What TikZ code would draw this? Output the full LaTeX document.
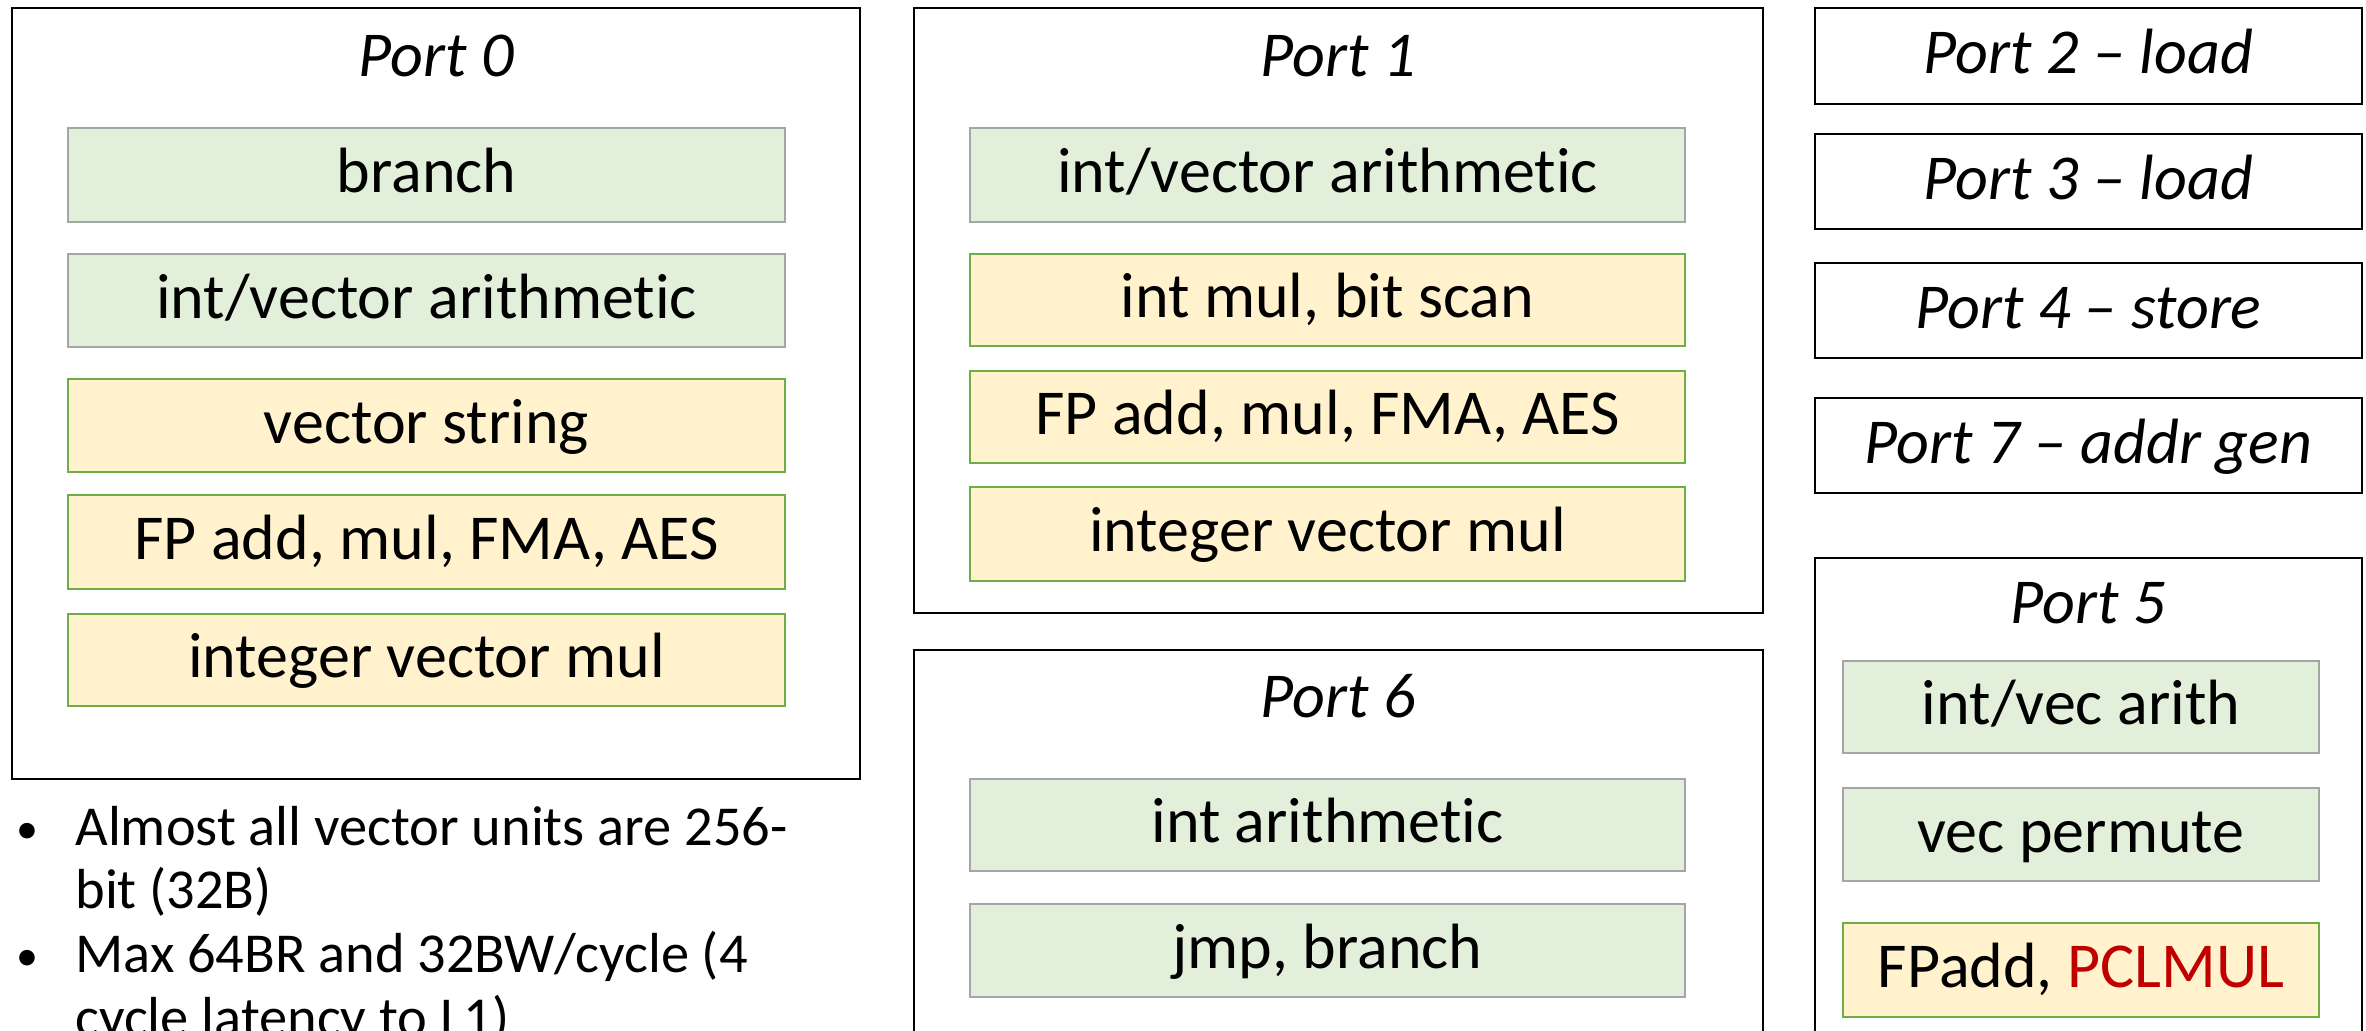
\documentclass[tikz,border=0pt]{standalone}
\usepackage{fontspec}
\setmainfont{Carlito}[Ligatures=NoCommon]
\usetikzlibrary{fit}
\definecolor{unitgreen}{HTML}{E2EFDA}
\definecolor{unitgrey}{HTML}{A5A5A5}
\definecolor{unityellow}{HTML}{FFF2CC}
\definecolor{unitedge}{HTML}{70AD47}
\definecolor{hilite}{HTML}{C00000}
\begin{document}
\begin{tikzpicture}[x=0.5pt,y=-0.5pt,
  every node/.style={font=\fontsize{32}{38}\selectfont, inner sep=0pt,
                     text height=25.6pt, text depth=7.7pt},
  portbox/.style={draw=black, line width=1pt, fill=white},
  porttitle/.style={font=\fontsize{32}{38}\selectfont\itshape},
  simpleunit/.style={draw=unitgrey, line width=0.9pt, fill=unitgreen},
  heavyunit/.style={draw=unitedge, line width=0.9pt, fill=unityellow},
  bulletline/.style={font=\fontsize{28.2}{32}\selectfont, anchor=base west},
  bulletdot/.style={font=\fontsize{22}{32}\selectfont, anchor=base}
]
\useasboundingbox (0,0) rectangle (2366,1031);
\clip (0,0) rectangle (2366,1031);

% Port 0
\node[portbox, fit={(12,8) (860,779)}] (p0) {};
\node[porttitle] (p0t) at (436,59) {Port 0};
\node[simpleunit, fit={(68,128) (785,222)}, label={center:branch}] (p0a) {};
\node[simpleunit, fit={(68,254) (785,347)}, label={center:int/vector arithmetic}] (p0b) {};
\node[heavyunit,  fit={(68,379) (785,472)}, label={center:vector string}] (p0c) {};
\node[heavyunit,  fit={(68,495) (785,589)}, label={center:{FP add, mul, FMA, AES}}] (p0d) {};
\node[heavyunit,  fit={(68,614) (785,706)}, label={center:integer vector mul}] (p0e) {};

% Port 1
\node[portbox, fit={(914,8) (1763,613)}] (p1) {};
\node[porttitle] (p1t) at (1338,59) {Port 1};
\node[simpleunit, fit={(970,128) (1685,222)}, label={center:int/vector arithmetic}] (p1a) {};
\node[heavyunit,  fit={(970,254) (1685,346)}, label={center:{int mul, bit scan}}] (p1b) {};
\node[heavyunit,  fit={(970,371) (1685,463)}, label={center:{FP add, mul, FMA, AES}}] (p1c) {};
\node[heavyunit,  fit={(970,487) (1685,581)}, label={center:integer vector mul}] (p1d) {};

% Port 6
\node[portbox, fit={(914,650) (1763,1100)}] (p6) {};
\node[porttitle] (p6t) at (1338,700) {Port 6};
\node[simpleunit, fit={(970,779) (1685,871)}, label={center:int arithmetic}] (p6a) {};
\node[simpleunit, fit={(970,904) (1685,997)}, label={center:{jmp, branch}}] (p6b) {};

% Memory ports
\node[portbox, fit={(1815,8) (2362,104)},   label={[porttitle]center:Port 2 -- load}] (p2) {};
\node[portbox, fit={(1815,134) (2362,229)}, label={[porttitle]center:Port 3 -- load}] (p3) {};
\node[portbox, fit={(1815,263) (2362,358)}, label={[porttitle]center:Port 4 -- store}] (p4) {};
\node[portbox, fit={(1815,398) (2362,493)}, label={[porttitle]center:Port 7 -- addr gen}] (p7) {};

% Port 5
\node[portbox, fit={(1815,558) (2362,1100)}] (p5) {};
\node[porttitle] (p5t) at (2088,606) {Port 5};
\node[simpleunit, fit={(1843,661) (2319,753)}, label={center:int/vec arith}] (p5a) {};
\node[simpleunit, fit={(1843,788) (2319,881)}, label={center:vec permute}] (p5b) {};
\node[heavyunit,  fit={(1843,923) (2319,1017)}, label={center:{FPadd, \textcolor{hilite}{PCLMUL}}}] (p5c) {};

% Notes
\node[bulletdot] (d1) at (27,843) {•};
\node[bulletline] (n1) at (75,845) {Almost all vector units are 256-};
\node[bulletline] (n2) at (75,908) {bit (32B)};
\node[bulletdot] (d2) at (27,970) {•};
\node[bulletline] (n3) at (75,972) {Max 64BR and 32BW/cycle (4};
\node[bulletline] (n4) at (75,1036) {cycle latency to L1)};
\end{tikzpicture}
\end{document}
